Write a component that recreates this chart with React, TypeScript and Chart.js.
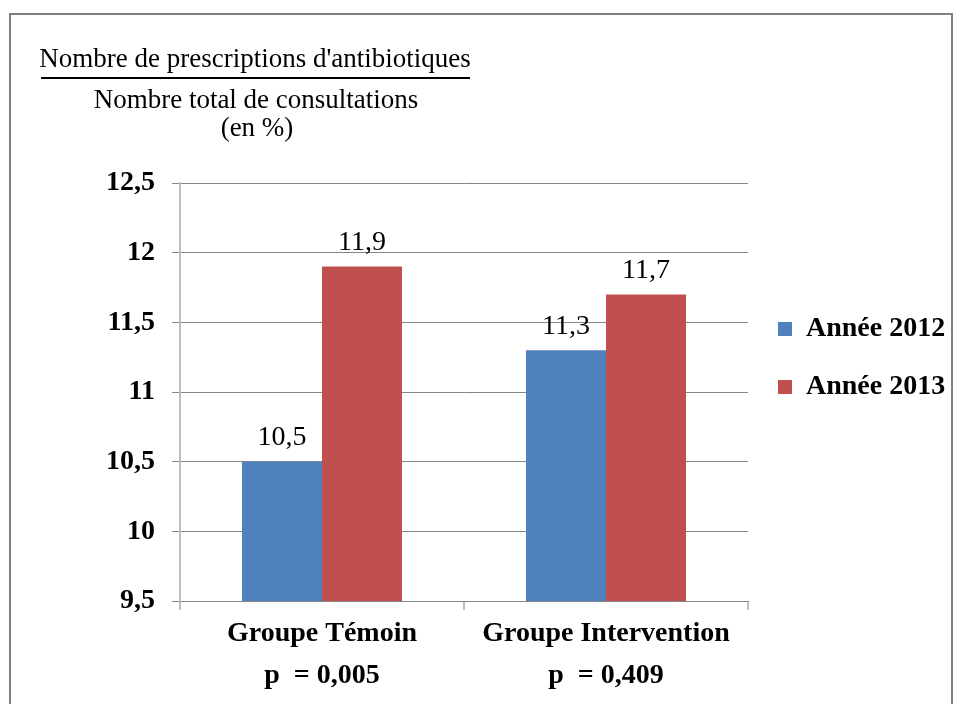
import React, { useEffect, useRef } from 'react';
import { Chart, registerables } from 'chart.js';

Chart.register(...registerables);

const categories = [
  ['Groupe Témoin', 'p  = 0,005'],
  ['Groupe Intervention', 'p  = 0,409'],
];
const seriesLabels = ['Année 2012', 'Année 2013'];
const values2012 = [10.5, 11.3];
const values2013 = [11.9, 11.7];
const yMin = 9.5;
const yMax = 12.5;
const yStep = 0.5;
const titleNumerator = "Nombre de prescriptions d'antibiotiques";
const titleDenominator = ['Nombre total de consultations', '(en %)'];

const SERIF = '"Liberation Serif", "Times New Roman", serif';
const fmt = (v: number) => String(v).replace('.', ',');

const fractionTitlePlugin = {
  id: 'fractionTitle',
  afterDraw(chart: any) {
    const ctx = chart.ctx;
    ctx.save();
    ctx.fillStyle = '#000';
    ctx.font = `27px ${SERIF}`;
    ctx.textAlign = 'center';
    ctx.textBaseline = 'alphabetic';
    ctx.fillText(titleNumerator, 255, 67);
    ctx.fillRect(41, 77, 429, 2);
    ctx.fillText(titleDenominator[0], 256, 108);
    ctx.fillText(titleDenominator[1], 257, 136);
    ctx.restore();
  },
};

const valueLabelPlugin = {
  id: 'valueLabels',
  afterDatasetsDraw(chart: any) {
    const ctx = chart.ctx;
    ctx.save();
    ctx.fillStyle = '#000';
    ctx.font = `28px ${SERIF}`;
    ctx.textAlign = 'center';
    ctx.textBaseline = 'middle';
    chart.data.datasets.forEach((ds: any, i: number) => {
      const meta = chart.getDatasetMeta(i);
      meta.data.forEach((el: any, j: number) => {
        ctx.fillText(fmt(ds.data[j]), el.x, el.y - 24);
      });
    });
    ctx.restore();
  },
};

export default function App() {
  const ref = useRef<HTMLCanvasElement | null>(null);

  useEffect(() => {
    if (!ref.current) return;
    const chart = new Chart(ref.current, {
      type: 'bar',
      data: {
        labels: categories,
        datasets: [
          { label: seriesLabels[0], data: values2012, backgroundColor: '#4F81BD', borderWidth: 0 },
          { label: seriesLabels[1], data: values2013, backgroundColor: '#C0504D', borderWidth: 0 },
        ],
      },
      options: {
        responsive: false,
        animation: false,
        devicePixelRatio: 1,
        layout: { padding: { top: 12, left: 0, right: 6, bottom: 0 } },
        datasets: { bar: { categoryPercentage: 0.5634, barPercentage: 1 } },
        plugins: {
          title: {
            display: true,
            text: '',
            font: { size: 10, lineHeight: 1 },
            padding: { top: 161, bottom: 0 },
          },
          legend: {
            position: 'right',
            align: 'center',
            fullSize: true,
            maxWidth: 200,
            labels: {
              boxWidth: 14,
              boxHeight: 14,
              padding: 30,
              color: '#000',
              font: { family: SERIF, size: 28, weight: 'bold' },
            },
          },
          tooltip: { enabled: false },
        },
        scales: {
          x: {
            afterFit: (s: any) => { s.height = 103; },
            grid: {
              offset: true,
              drawOnChartArea: false,
              drawTicks: true,
              tickLength: 9,
              color: '#BEBEBE',
              lineWidth: 2,
            },
            border: { color: '#868686', width: 1 },
            ticks: {
              color: '#000',
              padding: 3,
              maxRotation: 0,
              font: { family: SERIF, size: 28, weight: 'bold', lineHeight: '42px' as any },
            },
          },
          y: {
            min: yMin,
            max: yMax,
            afterFit: (s: any) => { s.width = 180; },
            grid: { color: '#868686', lineWidth: 1, tickLength: 8 },
            border: { color: '#BEBEBE', width: 2 },
            ticks: {
              stepSize: yStep,
              color: '#000',
              padding: 17,
              font: { family: SERIF, size: 28, weight: 'bold' },
              callback: (v: any) => fmt(Number(v)),
            },
          },
        },
      },
      plugins: [fractionTitlePlugin, valueLabelPlugin],
    });
    return () => chart.destroy();
  }, []);

  return (
    <>
      <div
        style={{
          position: 'absolute',
          left: 9,
          top: 13,
          width: 944,
          height: 691,
          boxSizing: 'border-box',
          border: '2px solid #808080',
          borderBottom: 'none',
        }}
      />
      <canvas
        ref={ref}
        width={954}
        height={704}
        style={{ position: 'absolute', left: 0, top: 0, width: 954, height: 704 }}
      />
    </>
  );
}
